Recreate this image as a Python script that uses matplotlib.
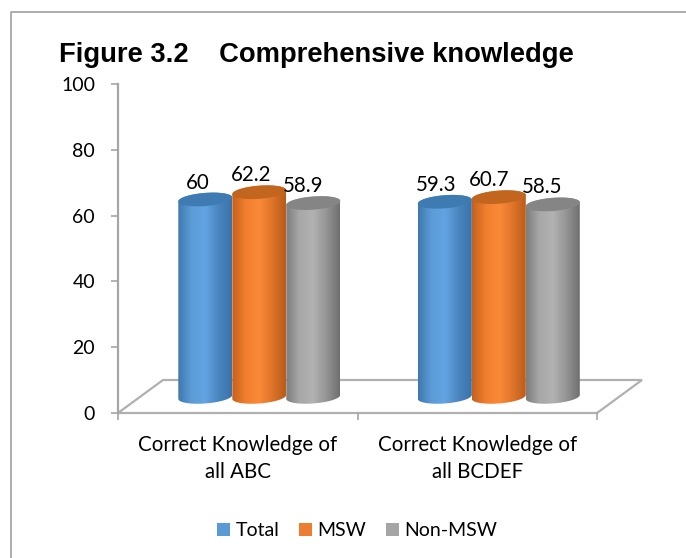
import numpy as np
import matplotlib
from matplotlib import pyplot as plt
from matplotlib.colors import LinearSegmentedColormap
from matplotlib.patches import PathPatch, Patch
from matplotlib.lines import Line2D
from matplotlib.path import Path

matplotlib.use("Agg")

# Chart data
CATEGORIES = ["Correct Knowledge of\nall ABC", "Correct Knowledge of\nall BCDEF"]
SERIES = ["Total", "MSW", "Non-MSW"]
TOTAL = [60, 59.3]
MSW = [62.2, 60.7]
NON_MSW = [58.9, 58.5]
YTICKS = [0, 20, 40, 60, 80, 100]

# Styling
W, H = 686, 558
AX_LEFT, AX_RIGHT = 118, 597
AX_BOTTOM, AX_TOP = 413, 84
PX_X = (AX_RIGHT - AX_LEFT) / 2
PX_Y = (AX_BOTTOM - AX_TOP) / 100
GREY = "#a6a6a6"
LEGEND_COLORS = ["#5b9bd5", "#ed7d31", "#a5a5a5"]
GRADIENTS = [
    ["#3f78ad", "#5b9cd8", "#62a4e2", "#4a86c0", "#3b73a8"],
    ["#c4611d", "#f07e2e", "#fb8a38", "#dd742a", "#b85b1c"],
    ["#7d7d7d", "#a8a8a8", "#b2b2b2", "#959595", "#6f6f6f"],
]
TOP_COLORS = ["#3f7bb3", "#c2661f", "#858585"]
BAR_W = 54 / PX_X
BASE = 4.9
ELLIPSE_H = 2.0
TILT = 0.6
LABEL_OFFSETS = [[-8, -8, -10], [-9, -10, -11]]


def ellipse(cx, y, theta):
    xs = cx + BAR_W / 2 * np.cos(theta)
    ys = y + ELLIPSE_H * np.sin(theta) + TILT * np.cos(theta)
    return np.column_stack([xs, ys])


def draw_cylinder(ax, cx, value, j):
    top = BASE + value
    lower = ellipse(cx, BASE, np.linspace(0, -np.pi, 40))
    upper = ellipse(cx, top, np.linspace(np.pi, 0, 40))
    outline = Path(np.vstack([lower, upper, lower[:1]]))
    cmap = LinearSegmentedColormap.from_list("cyl", GRADIENTS[j])
    im = ax.imshow(np.linspace(0, 1, 128)[None, :], cmap=cmap, aspect="auto", zorder=3 + j,
                   extent=(cx - BAR_W / 2, cx + BAR_W / 2, 0, top + 4))
    im.set_clip_path(PathPatch(outline, transform=ax.transData))
    cap = ellipse(cx, top, np.linspace(0, 2 * np.pi, 80))
    ax.add_patch(plt.Polygon(cap, closed=True, facecolor=TOP_COLORS[j], edgecolor="none", zorder=3 + j))


def main():
    fig = plt.figure(figsize=(W / 100, H / 100), dpi=100)
    ax = fig.add_axes([AX_LEFT / W, 1 - AX_BOTTOM / H, (AX_RIGHT - AX_LEFT) / W, (AX_BOTTOM - AX_TOP) / H])
    ax.patch.set_alpha(0)

    # outer frame, left and top edges only
    fig.add_artist(Line2D([10.5 / W, 10.5 / W, 1], [0, 1 - 12 / H, 1 - 12 / H], color="#a0a0a0", lw=1.2))

    # floor of the 3D box
    dx, dy = 45 / PX_X, 33 / PX_Y
    ax.plot([0, dx, 2 + dx, 2, 0], [0, dy, dy, 0, 0], color="#b0b0b0", lw=1.6, clip_on=False, zorder=1,
            solid_joinstyle="miter")

    values = [TOTAL, MSW, NON_MSW]
    for i in range(len(CATEGORIES)):
        for j in range(len(SERIES)):
            cx = i + 0.5 + 0.09 + (j - 1) * BAR_W
            draw_cylinder(ax, cx, values[j][i], j)
            ax.annotate(str(values[j][i]), (cx, BASE + values[j][i]),
                        xytext=(LABEL_OFFSETS[i][j] * 0.72, 5), textcoords="offset points",
                        ha="center", va="bottom", fontsize=14.8, color="black", family="Lato", zorder=10)

    ax.set_xlim(0, 2)
    ax.set_ylim(0, 100)
    ax.set_yticks(YTICKS)
    ax.set_xticks([0, 1, 2])
    ax.set_xticklabels([])
    ax.set_xticks([0.5, 1.5], minor=True)
    ax.set_xticklabels(CATEGORIES, minor=True, fontsize=14.8, family="Lato", linespacing=1.44)
    ax.tick_params(axis="x", which="minor", length=0, pad=16)
    ax.tick_params(axis="x", which="major", length=5, color=GREY, width=1.2)
    ax.tick_params(axis="y", length=5, color=GREY, width=1.2, labelsize=14, pad=11.5)
    for label in ax.get_yticklabels():
        label.set_family("Lato")
    for name in ["top", "right", "bottom"]:
        ax.spines[name].set_visible(False)
    ax.spines["left"].set_color(GREY)
    ax.spines["left"].set_linewidth(1.6)

    fig.text(59 / W, 1 - 62 / H, "Figure 3.2    Comprehensive knowledge", family="Liberation Sans",
             fontweight="bold", fontsize=19.7, ha="left", va="baseline")

    handles = [Patch(facecolor=c, edgecolor="none") for c in LEGEND_COLORS]
    fig.legend(handles, SERIES, loc="center", bbox_to_anchor=(357.5 / W, 1 - 531 / H), ncol=3, frameon=False,
               prop={"family": "Lato", "size": 14}, handlelength=0.65, handleheight=0.65,
               handletextpad=0.3, columnspacing=1.0)

    fig.savefig("out.png", dpi=100)


if __name__ == "__main__":
    main()
